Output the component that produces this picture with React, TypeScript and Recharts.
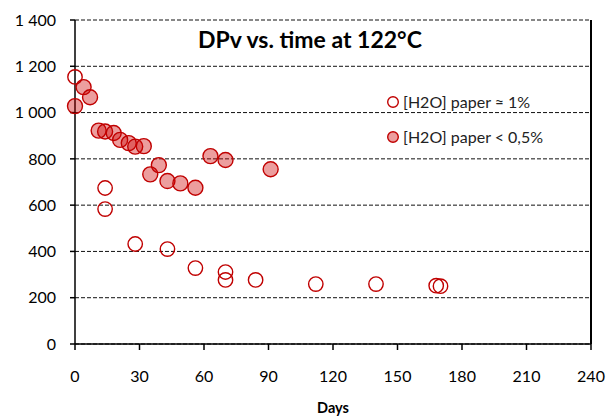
import React from "react";
import {
  ScatterChart,
  Scatter,
  XAxis,
  YAxis,
  CartesianGrid,
  ReferenceLine,
} from "recharts";

const wetDays = [0, 14, 14, 28, 43, 56, 70, 70, 84, 112, 140, 168, 170];
const wetDPv = [1154, 674, 583, 432, 410, 328, 311, 277, 277, 259, 259, 252, 250];

const dryDays = [0, 4, 7, 11, 14, 18, 21, 25, 28, 32, 35, 39, 43, 49, 56, 63, 70, 91];
const dryDPv = [1028, 1110, 1066, 922, 918, 912, 882, 868, 853, 855, 733, 773, 704, 694, 675, 812, 795, 755];

const xTicks = [0, 30, 60, 90, 120, 150, 180, 210, 240];
const yTicks = [0, 200, 400, 600, 800, 1000, 1200, 1400];

const wetLabel = "[H2O] paper \u2248 1%";
const dryLabel = "[H2O] paper < 0,5%";
const titleText = "DPv  vs. time at 122\u00b0C";

const wetData = wetDays.map((d, i) => ({ x: d, y: wetDPv[i] }));
const dryData = dryDays.map((d, i) => ({ x: d, y: dryDPv[i] }));
const xMax = 240;
const yMax = 1400;

const RED = "#C00000";
const FONT = "Lato, 'Open Sans', sans-serif";

const fmt = (v: number) =>
  v >= 1000 ? `${Math.floor(v / 1000)} ${String(v % 1000).padStart(3, "0")}` : String(v);

const OpenDot = (p: any) => (
  <circle cx={p.cx} cy={p.cy} r={7.2} fill="none" stroke={RED} strokeWidth={1.4} />
);
const FilledDot = (p: any) => (
  <circle cx={p.cx} cy={p.cy} r={7.5} fill="#CC0000" fillOpacity={0.38} stroke={RED} strokeWidth={1.4} />
);

export default function App() {
  return (
    <div style={{ position: "absolute", left: 0, top: 0, width: 609, height: 418, background: "#fff" }}>
      <ScatterChart width={609} height={418} margin={{ top: 20, right: 18, bottom: 0, left: 0 }}>
        <CartesianGrid vertical={false} stroke="#111" strokeDasharray="4 2" />
        <XAxis
          type="number"
          dataKey="x"
          domain={[0, xMax]}
          ticks={xTicks}
          interval={0}
          height={74}
          tickSize={6}
          tickMargin={21}
          axisLine={{ stroke: "#000", strokeWidth: 1.5 }}
          tickLine={{ stroke: "#000", strokeWidth: 1.5 }}
          tick={{ fill: "#000", fontSize: 16, fontFamily: FONT }}
          label={{
            value: "Days",
            position: "insideBottom",
            offset: 5,
            style: { fill: "#000", fontSize: 14.5, fontWeight: 700, fontFamily: FONT },
          }}
        />
        <YAxis
          type="number"
          dataKey="y"
          domain={[0, yMax]}
          ticks={yTicks}
          interval={0}
          width={75}
          tickSize={5}
          tickMargin={14}
          tickFormatter={fmt}
          axisLine={{ stroke: "#000", strokeWidth: 1.5 }}
          tickLine={{ stroke: "#000", strokeWidth: 1.5 }}
          tick={{ fill: "#000", fontSize: 16, fontFamily: FONT }}
        />
        <ReferenceLine
          segment={[
            { x: xMax, y: 0 },
            { x: xMax, y: yMax },
          ]}
          stroke="#000"
          strokeWidth={2}
          ifOverflow="visible"
        />
        <Scatter name={dryLabel} data={dryData} shape={FilledDot} isAnimationActive={false} />
        <Scatter name={wetLabel} data={wetData} shape={OpenDot} isAnimationActive={false} />
        <text
          x={310}
          y={48}
          textAnchor="middle"
          style={{ fontFamily: FONT, fontSize: 23, fontWeight: 700, fill: "#000" }}
        >
          {titleText}
        </text>
        <g>
          <circle cx={393} cy={102} r={5.3} fill="none" stroke={RED} strokeWidth={1.4} />
          <text x={403} y={102} dy="0.36em" style={{ fontFamily: FONT, fontSize: 16, fill: "#222" }}>
            {wetLabel}
          </text>
          <circle cx={393} cy={137} r={5.3} fill="#CC0000" fillOpacity={0.38} stroke={RED} strokeWidth={1.4} />
          <text x={403} y={137} dy="0.36em" style={{ fontFamily: FONT, fontSize: 16, fill: "#222" }}>
            {dryLabel}
          </text>
        </g>
        <line x1={591} y1={20} x2={591} y2={344} stroke="#000" strokeWidth={1.5} />
      </ScatterChart>
    </div>
  );
}
